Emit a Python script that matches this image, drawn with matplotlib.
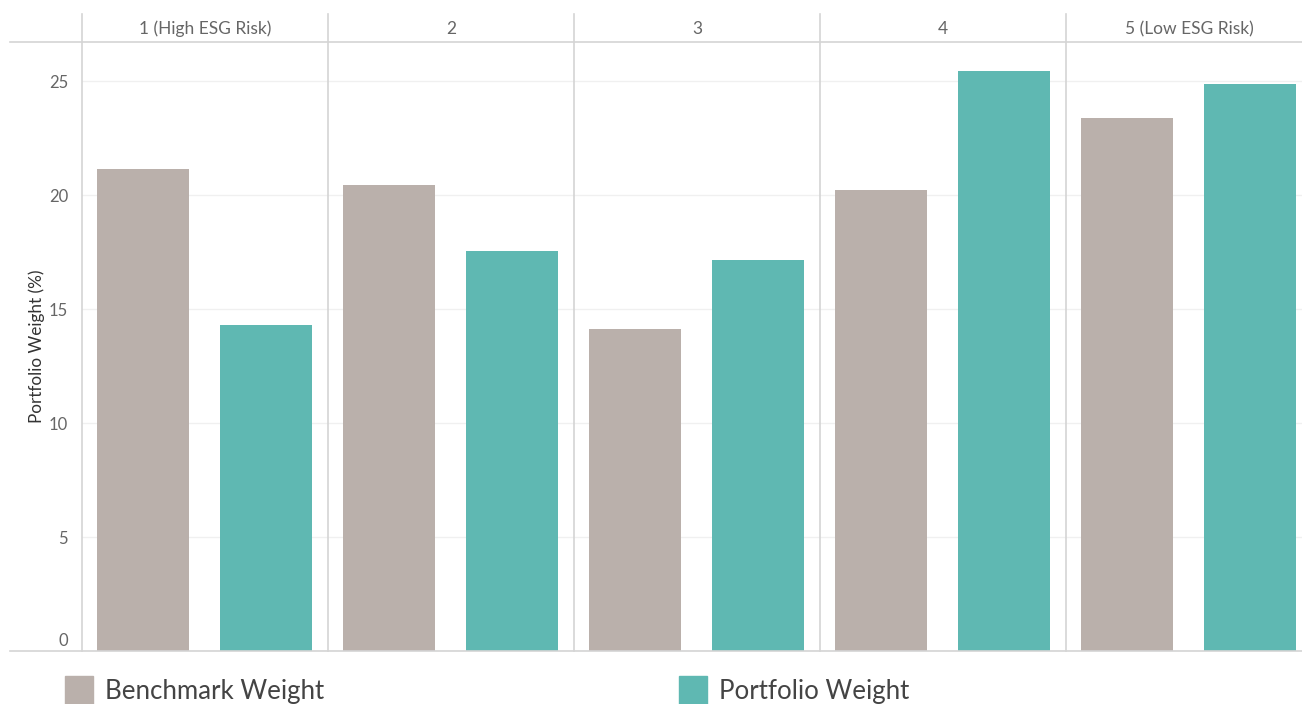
import matplotlib.pyplot as plt
from matplotlib.lines import Line2D
from matplotlib.patches import Rectangle
import matplotlib.transforms as mtrans

plt.rcParams['font.family'] = ['Lato', 'DejaVu Sans']

categories = ['1 (High ESG Risk)', '2', '3', '4', '5 (Low ESG Risk)']
benchmark_weight = [21.15, 20.45, 14.12, 20.22, 23.38]
portfolio_weight = [14.30, 17.55, 17.15, 25.45, 24.88]
y_ticks = [0, 5, 10, 15, 20, 25]

bench_color = '#bab0ab'
port_color = '#5fb8b2'
line_color = '#d4d4d4'
text_color = '#666666'

W, H = 1302, 704
fig = plt.figure(figsize=(W / 100, H / 100), dpi=100)

def fx(px):
    return px / W

def fy(py):
    return 1 - py / H

# plot area in pixels (last panel runs past the right edge)
panel = 246
left, top, bottom = 82, 42, 651
n = len(categories)
right = left + n * panel
ax = fig.add_axes([fx(left), fy(bottom), fx(right - left), fy(top) - fy(bottom)])

x_bench = [i + 61 / panel for i in range(n)]
x_port = [i + 184 / panel for i in range(n)]
bw = 92 / panel
ax.bar(x_bench, benchmark_weight, width=bw, color=bench_color, zorder=2)
ax.bar(x_port, portfolio_weight, width=bw, color=port_color, zorder=2)

ax.set_xlim(0, n)
ax.set_ylim(0, (bottom - top) / 22.8)
ax.set_xticks([])
ax.set_yticks(y_ticks)
ax.tick_params(axis='y', length=0, pad=10, labelsize=12, labelcolor=text_color)
ax.yaxis.grid(True, color='#f0f0f0', linewidth=1, zorder=0)
for s in ax.spines.values():
    s.set_visible(False)

# lift the 0 label above the baseline
zero_lbl = ax.get_yticklabels()[0]
zero_lbl.set_transform(zero_lbl.get_transform() +
                       mtrans.ScaledTranslation(0, 8 / 72, fig.dpi_scale_trans))

ax.set_ylabel('Portfolio Weight (%)', fontsize=12.3, color='#333333')
ax.yaxis.set_label_coords((45 - left) / (right - left), 0.5)

# horizontal rules (extend left of the axes)
for py in (top, bottom):
    fig.add_artist(Line2D([fx(10), fx(W)], [fy(py), fy(py)], color=line_color, lw=1.2))

# panel dividers and headers
for i in range(n):
    px = left + i * panel
    fig.add_artist(Line2D([fx(px), fx(px)], [fy(14), fy(bottom)], color=line_color, lw=1.2))
    fig.text(fx(px + panel / 2), fy(29), categories[i], ha='center', va='center',
             fontsize=12.5, color=text_color)

# legend
for sx, label, c in [(65, 'Benchmark Weight', bench_color), (679, 'Portfolio Weight', port_color)]:
    fig.add_artist(Rectangle((fx(sx), fy(704)), fx(28), fy(676) - fy(704), color=c,
                             transform=fig.transFigure))
    fig.text(fx(sx + 40), fy(692), label, ha='left', va='center', fontsize=18.6,
             color='#444444')

fig.savefig('out.png', dpi=100)
